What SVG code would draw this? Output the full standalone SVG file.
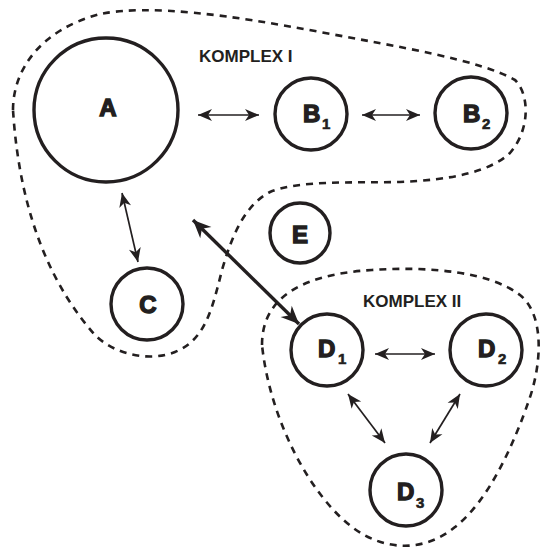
<svg xmlns="http://www.w3.org/2000/svg" width="542" height="549" viewBox="0 0 542 549">
<style>
.bg{fill:#fff}
.node{fill:#fff;stroke:#231f20;stroke-width:3.4}
.lbl{font-family:"Liberation Sans",Arial,sans-serif;font-weight:bold;font-size:24px;fill:#231f20;stroke:#231f20;stroke-width:1.4}
.sub{font-family:"Liberation Sans",Arial,sans-serif;font-weight:bold;font-size:15px;fill:#231f20;stroke:#231f20;stroke-width:0.6}
.title{font-family:"Liberation Sans",Arial,sans-serif;font-weight:bold;font-size:17px;fill:#231f20}
.cplx{fill:none;stroke:#231f20;stroke-width:2.6;stroke-dasharray:7 6}
.thin{fill:none;stroke:#231f20;stroke-width:1.7;marker-start:url(#ah);marker-end:url(#ah)}
.thick{fill:none;stroke:#231f20;stroke-width:3.4;marker-start:url(#ahb);marker-end:url(#ahb)}
</style>
<defs>
<marker id="ah" markerUnits="userSpaceOnUse" viewBox="-16 -8 17 16" refX="0" refY="0" markerWidth="17" markerHeight="16" orient="auto-start-reverse">
<path d="M0,0 L-14,-6 L-10,0 L-14,6 Z" fill="#231f20"/>
</marker>
<marker id="ahb" markerUnits="userSpaceOnUse" viewBox="-20 -10 21 20" refX="0" refY="0" markerWidth="21" markerHeight="20" orient="auto-start-reverse">
<path d="M0,0 L-18,-8 L-12.5,0 L-18,8 Z" fill="#231f20"/>
</marker>
</defs>
<rect class="bg" x="0" y="0" width="542" height="549"/>
<g id="komplex-1">
<path class="cplx" d="M13,110 C13,70 40,30 100,14 C150,4 230,15 320,32 C400,47 480,60 515,80 C530,95 530,130 510,153 C490,172 450,180 400,182 C350,183 300,180 270,192 C245,205 232,235 222,270 C212,310 205,340 175,352 C150,362 115,355 95,335 C55,290 20,220 13,110 Z"/>
<text class="title" x="199" y="62">KOMPLEX I</text>
</g>
<g id="komplex-2">
<path class="cplx" d="M262,345 C262,305 290,275 372,270 C430,266 490,272 520,295 C545,315 542,365 528,403 C515,440 490,500 455,527 C425,552 385,552 352,527 C310,495 270,420 262,345 Z"/>
<text class="title" x="363" y="307">KOMPLEX II</text>
</g>
<g id="connectors">
<line class="thin" x1="198" y1="115" x2="259" y2="115"/>
<line class="thin" x1="362" y1="115" x2="420" y2="115"/>
<line class="thin" x1="122" y1="193" x2="138" y2="262"/>
<line class="thick" x1="193" y1="220" x2="299" y2="324"/>
<line class="thin" x1="375" y1="354" x2="435" y2="354"/>
<line class="thin" x1="348" y1="394" x2="385" y2="443"/>
<line class="thin" x1="460" y1="394" x2="430" y2="443"/>
</g>
<g id="node-A">
<circle class="node" cx="106" cy="110" r="72"/>
<text class="lbl" x="108" y="116" text-anchor="middle">A</text>
</g>
<g id="node-B1">
<circle class="node" cx="311" cy="114" r="36"/>
<text class="lbl" x="303" y="122">B</text><text class="sub" x="322" y="129">1</text>
</g>
<g id="node-B2">
<circle class="node" cx="471" cy="113" r="36"/>
<text class="lbl" x="463" y="122">B</text><text class="sub" x="482" y="129">2</text>
</g>
<g id="node-C">
<circle class="node" cx="147" cy="304" r="36"/>
<text class="lbl" x="148" y="313" text-anchor="middle">C</text>
</g>
<g id="node-E">
<circle class="node" cx="300" cy="233" r="30"/>
<text class="lbl" x="300" y="243" text-anchor="middle">E</text>
</g>
<g id="node-D1">
<circle class="node" cx="327" cy="350" r="36"/>
<text class="lbl" x="318" y="357">D</text><text class="sub" x="338" y="364">1</text>
</g>
<g id="node-D2">
<circle class="node" cx="486" cy="350" r="36"/>
<text class="lbl" x="478" y="357">D</text><text class="sub" x="498" y="364">2</text>
</g>
<g id="node-D3">
<circle class="node" cx="406" cy="490" r="36"/>
<text class="lbl" x="397" y="500">D</text><text class="sub" x="416" y="508">3</text>
</g>
</svg>
